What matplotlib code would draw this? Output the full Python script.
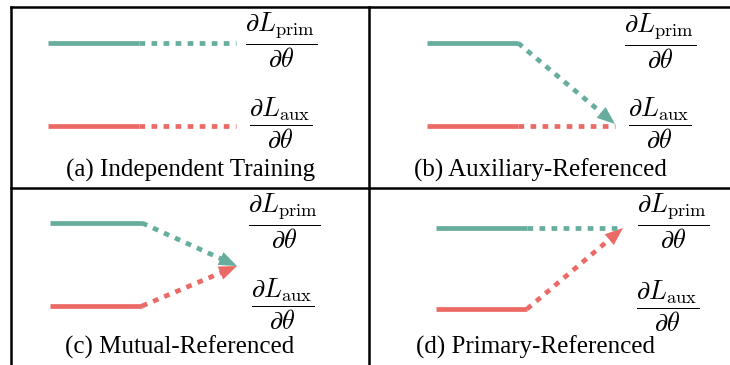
import numpy as np
import matplotlib
matplotlib.use("Agg")
import matplotlib.pyplot as plt
from matplotlib.patches import Polygon

plt.rcParams["mathtext.fontset"] = "cm"

W, H = 730, 365
TEAL = "#66ad9d"
RED = "#ec6a65"

# panel captions and their anchor points (pixel space)
captions = ["(a) Independent Training", "(b) Auxiliary-Referenced",
            "(c) Mutual-Referenced", "(d) Primary-Referenced"]
caption_x = [191, 540, 180, 536]
caption_y = [170, 170, 347, 347]

# gradient labels
grad_prim = r"$\dfrac{\partial L_{\rm prim}}{\partial \theta}$"
grad_aux = r"$\dfrac{\partial L_{\rm aux}}{\partial \theta}$"
prim_label_xy = [(281, 40), (660, 41), (284, 221), (673, 221)]
aux_label_xy = [(281, 123), (660, 123), (283, 304), (668, 306)]

# solid segment: (x_start, x_end, y) per panel for primary / auxiliary
prim_solid = [(48, 139, 43), (427, 518, 43), (50, 142, 223), (436, 527, 228)]
aux_solid = [(48, 139, 126), (427, 518, 126), (50, 142, 306), (436, 527, 309)]

# dotted continuation: end point and whether it carries an arrow head
prim_dot_end = [(236, 43), (615, 124), (237, 266), (623, 228)]
prim_arrow = [False, True, True, False]
aux_dot_end = [(236, 126), (615, 126), (237, 266), (623, 228)]
aux_arrow = [False, False, True, True]

fig = plt.figure(figsize=(W / 100, H / 100), dpi=100)
ax = fig.add_axes([0, 0, 1, 1])
ax.set_xlim(0, W)
ax.set_ylim(H, 0)
ax.axis("off")

LW = 3.4
DOT = (0, (1.2, 1.35))


def draw_branch(solid, end, arrow, color):
    x0, x1, y = solid
    ax.plot([x0, x1], [y, y], color=color, lw=LW, solid_capstyle="butt")
    ex, ey = end
    d = np.array([ex - x1, ey - y], dtype=float)
    L = np.hypot(*d)
    u = d / L
    if arrow:
        head_len, head_w = 18.0, 14.0
        stop = np.array([ex, ey]) - u * head_len * 0.9
        ax.plot([x1, stop[0]], [y, stop[1]], color=color, lw=LW,
                linestyle=DOT, dash_capstyle="butt")
        n = np.array([-u[1], u[0]])
        tip = np.array([ex, ey])
        base = tip - u * head_len
        ax.add_patch(Polygon([tip, base + n * head_w / 2, base - n * head_w / 2],
                             closed=True, facecolor=color, edgecolor="none"))
    else:
        ax.plot([x1, ex], [y, ey], color=color, lw=LW,
                linestyle=DOT, dash_capstyle="butt")


for i in range(4):
    draw_branch(prim_solid[i], prim_dot_end[i], prim_arrow[i], TEAL)
    draw_branch(aux_solid[i], aux_dot_end[i], aux_arrow[i], RED)
    ax.text(*prim_label_xy[i], grad_prim, fontsize=19, ha="center", va="center")
    ax.text(*aux_label_xy[i], grad_aux, fontsize=19, ha="center", va="center")
    ax.text(caption_x[i], caption_y[i], captions[i], fontsize=18,
            family="Liberation Serif", ha="center", va="center")

# table frame
frame = dict(color="black", lw=1.8)
ax.plot([11, W], [7, 7], **frame)
ax.plot([11, W], [188, 188], **frame)
ax.plot([11, 11], [7, H], **frame)
ax.plot([369, 369], [7, H], **frame)

fig.savefig("out.png", dpi=100)
